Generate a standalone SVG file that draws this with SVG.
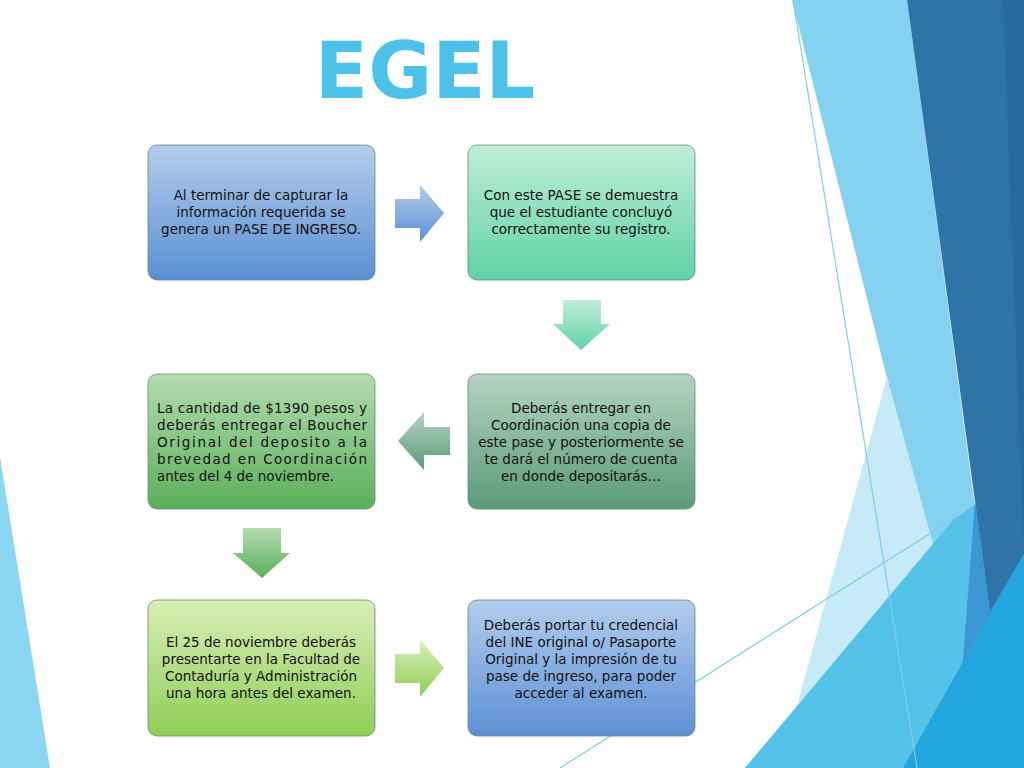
<svg xmlns="http://www.w3.org/2000/svg" width="1024" height="768" viewBox="0 0 1024 768">
<style>
.t{font-family:"DejaVu Sans","Liberation Sans",sans-serif;font-size:13.5px;fill:#111;text-anchor:middle}
.j{font-family:"DejaVu Sans","Liberation Sans",sans-serif;font-size:13.5px;fill:#111}
.b{stroke:#6a8a7a;stroke-width:0.8}
</style>
<defs>
<linearGradient id="g1" x1="0" y1="0" x2="0" y2="1"><stop offset="0" stop-color="#b4cdeb"/><stop offset="1" stop-color="#5a8fd2"/></linearGradient>
<linearGradient id="g2" x1="0" y1="0" x2="0" y2="1"><stop offset="0" stop-color="#c0eedb"/><stop offset="1" stop-color="#5fd1a6"/></linearGradient>
<linearGradient id="g3" x1="0" y1="0" x2="0" y2="1"><stop offset="0" stop-color="#b5d3c3"/><stop offset="1" stop-color="#5a9a79"/></linearGradient>
<linearGradient id="g4" x1="0" y1="0" x2="0" y2="1"><stop offset="0" stop-color="#b3dcb0"/><stop offset="1" stop-color="#5aaf5a"/></linearGradient>
<linearGradient id="g5" x1="0" y1="0" x2="0" y2="1"><stop offset="0" stop-color="#d9efb6"/><stop offset="1" stop-color="#8fcd56"/></linearGradient>
<linearGradient id="g6" x1="0" y1="0" x2="0" y2="1"><stop offset="0" stop-color="#b2cdee"/><stop offset="1" stop-color="#5e90d4"/></linearGradient>
</defs>
<rect width="1024" height="768" fill="#fff"/>
<g id="decor">
<polygon points="0,457 50,768 0,768" fill="#8bd6f2"/>
<polygon points="792,0 907,0 1010,768 985,768" fill="#84d2f0"/>
<polygon points="780,768 887,377 933,544 905,768" fill="#c6eaf8"/>
<polygon points="745,768 953,520 1024,470 1024,768" fill="#54c2e9"/>
<polygon points="907,0 1024,0 1024,554 990,612" fill="#2f74a6"/>
<polygon points="1003,0 1024,0 1024,554" fill="#286a9f"/>
<polygon points="955,768 975,500 990,612 1024,554 1024,768" fill="#3a97d2"/>
<polygon points="903,768 1024,554 1024,768" fill="#22a6dd"/>
<line x1="793" y1="0" x2="917" y2="768" stroke="#7dcfee" stroke-width="1.2"/>
<line x1="560" y1="768" x2="953" y2="519" stroke="#7dcfee" stroke-width="1.2"/>
</g>
<text x="425" y="98" font-family="DejaVu Sans, Liberation Sans, sans-serif" font-weight="bold" font-size="78" fill="#4cc2e8" text-anchor="middle">EGEL</text>
<g id="connectors">
<polygon points="395,199 420,199 420,185 444,213 420,242 420,228 395,228" fill="url(#g1)"/>
<polygon points="563,300 601,300 601,324 610,324 581,350 553,324 563,324" fill="url(#g2)"/>
<polygon points="450,427 424,427 424,412 398,441 424,470 424,455 450,455" fill="url(#g3)"/>
<polygon points="243,528 281,528 281,553 290,553 262,578 233,553 243,553" fill="url(#g4)"/>
<polygon points="395,654 420,654 420,640 444,668 420,697 420,683 395,683" fill="url(#g5)"/>
</g>
<g id="n1"><rect x="148" y="145" width="227" height="135" rx="9" fill="url(#g1)" class="b"/>
<text class="t"><tspan x="261" y="200">Al terminar de capturar la</tspan><tspan x="261" y="217">información requerida se</tspan><tspan x="261" y="234">genera un PASE DE INGRESO.</tspan></text></g>
<g id="n2"><rect x="468" y="145" width="227" height="135" rx="9" fill="url(#g2)" class="b"/>
<text class="t"><tspan x="581" y="200">Con este PASE se demuestra</tspan><tspan x="581" y="217">que el estudiante concluyó</tspan><tspan x="581" y="234">correctamente su registro.</tspan></text></g>
<g id="n3"><rect x="468" y="374" width="227" height="135" rx="9" fill="url(#g3)" class="b"/>
<text class="t"><tspan x="581" y="413">Deberás entregar en</tspan><tspan x="581" y="430">Coordinación una copia de</tspan><tspan x="581" y="447">este pase y posteriormente se</tspan><tspan x="581" y="464">te dará el número de cuenta</tspan><tspan x="581" y="481">en donde depositarás…</tspan></text></g>
<g id="n4"><rect x="148" y="374" width="227" height="135" rx="9" fill="url(#g4)" class="b"/>
<text class="j"><tspan x="157" y="413" textLength="210" lengthAdjust="spacing">La cantidad de $1390 pesos y</tspan><tspan x="157" y="430" textLength="210" lengthAdjust="spacing">deberás entregar el Boucher</tspan><tspan x="157" y="447" textLength="210" lengthAdjust="spacing">Original del deposito a la</tspan><tspan x="157" y="464" textLength="210" lengthAdjust="spacing">brevedad en Coordinación</tspan><tspan x="157" y="481">antes del 4 de noviembre.</tspan></text></g>
<g id="n5"><rect x="148" y="600" width="227" height="136" rx="9" fill="url(#g5)" class="b"/>
<text class="t"><tspan x="261" y="647">El 25 de noviembre deberás</tspan><tspan x="261" y="664">presentarte en la Facultad de</tspan><tspan x="261" y="681">Contaduría y Administración</tspan><tspan x="261" y="698">una hora antes del examen.</tspan></text></g>
<g id="n6"><rect x="468" y="600" width="227" height="136" rx="9" fill="url(#g6)" class="b"/>
<text class="t"><tspan x="581" y="630">Deberás portar tu credencial</tspan><tspan x="581" y="647">del INE original o/ Pasaporte</tspan><tspan x="581" y="664">Original y la impresión de tu</tspan><tspan x="581" y="681">pase de ingreso, para poder</tspan><tspan x="581" y="698">acceder al examen.</tspan></text></g>
</svg>
